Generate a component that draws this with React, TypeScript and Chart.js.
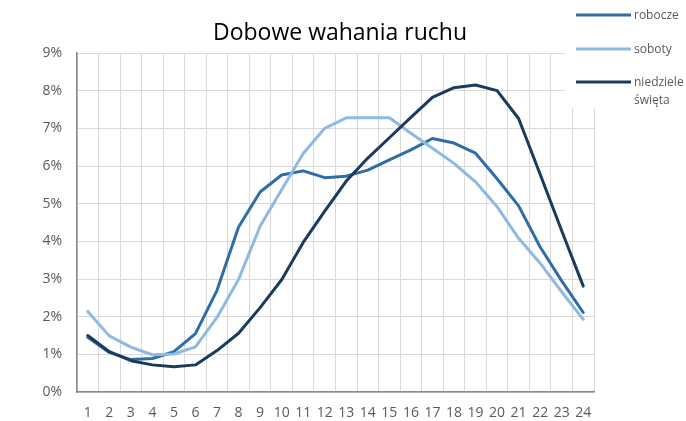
import { useEffect, useRef } from "react";
import { Chart, registerables } from "chart.js";

Chart.register(...registerables);

const hours = ["1","2","3","4","5","6","7","8","9","10","11","12","13","14","15","16","17","18","19","20","21","22","23","24"];
const robocze = [1.45, 1.05, 0.86, 0.89, 1.07, 1.55, 2.7, 4.38, 5.31, 5.76, 5.87, 5.69, 5.73, 5.89, 6.16, 6.43, 6.73, 6.61, 6.34, 5.66, 4.94, 3.85, 2.95, 2.11];
const soboty = [2.14, 1.49, 1.19, 0.99, 1.01, 1.2, 1.98, 2.99, 4.4, 5.37, 6.33, 7.0, 7.28, 7.28, 7.28, 6.87, 6.47, 6.07, 5.58, 4.92, 4.08, 3.42, 2.66, 1.93];
const niedziele = [1.5, 1.07, 0.83, 0.72, 0.67, 0.72, 1.1, 1.56, 2.24, 2.98, 3.97, 4.8, 5.6, 6.21, 6.75, 7.29, 7.82, 8.08, 8.15, 8.0, 7.26, 5.78, 4.28, 2.81];
const seriesNames = ["robocze", "soboty", ["niedziele", "święta"]];
const seriesColors = ["#2E6DA8", "#8DB9E2", "#1C3A5E"];
const yTicks = [0, 1, 2, 3, 4, 5, 6, 7, 8, 9];
const title = "Dobowe wahania ruchu";

const FONT = "'Open Sans', sans-serif";

const overlayPlugin = {
  id: "overlay",
  beforeDatasetsDraw(chart: any) {
    const ctx = chart.ctx;
    ctx.save();
    ctx.fillStyle = "#ffffff";
    ctx.fillRect(565, 0, 121, 108);
    ctx.restore();
  },
  afterDraw(chart: any) {
    const ctx = chart.ctx;
    ctx.save();
    // title
    ctx.fillStyle = "#000000";
    ctx.font = `23px ${FONT}`;
    ctx.textAlign = "center";
    ctx.textBaseline = "alphabetic";
    ctx.fillText(title, 340, 40);
    // legend
    const rows = [15, 49, 82];
    ctx.font = `12px ${FONT}`;
    ctx.textAlign = "left";
    ctx.textBaseline = "middle";
    seriesNames.forEach((name, i) => {
      const y = rows[i];
      ctx.strokeStyle = seriesColors[i];
      ctx.lineWidth = 3;
      ctx.lineCap = "butt";
      ctx.beginPath();
      ctx.moveTo(576, y);
      ctx.lineTo(631, y);
      ctx.stroke();
      ctx.fillStyle = "#595959";
      const lines = Array.isArray(name) ? name : [name];
      lines.forEach((t, j) => ctx.fillText(t, 634, y + 1 + j * 18));
    });
    ctx.restore();
  },
};

export default function App() {
  const ref = useRef<HTMLCanvasElement>(null);
  useEffect(() => {
    if (!ref.current) return;
    const chart = new Chart(ref.current, {
      type: "line",
      data: {
        labels: hours,
        datasets: [
          { label: "robocze", data: robocze },
          { label: "soboty", data: soboty },
          { label: "niedziele święta", data: niedziele },
        ].map((d, i) => ({
          ...d,
          borderColor: seriesColors[i],
          backgroundColor: seriesColors[i],
          borderWidth: 3,
          pointRadius: 0,
          tension: 0,
          borderJoinStyle: "round" as const,
          borderCapStyle: "round" as const,
          order: 3 - i,
        })),
      },
      options: {
        animation: false,
        responsive: false,
        devicePixelRatio: 1,
        layout: { padding: { top: 53, right: 92, left: 0, bottom: 0 } },
        plugins: { legend: { display: false }, title: { display: false }, tooltip: { enabled: false } },
        scales: {
          x: {
            type: "category",
            offset: true,
            grid: { color: "#d9d9d9", offset: true, drawTicks: false, lineWidth: 1 },
            border: { color: "#8a8a8a", width: 1.5 },
            ticks: { color: "#595959", font: { family: FONT, size: 14 }, padding: 13, maxRotation: 0, autoSkip: false },
            afterFit: (s: any) => { s.height = 29; },
          },
          y: {
            min: yTicks[0],
            max: yTicks[yTicks.length - 1],
            afterBuildTicks: (s: any) => { s.ticks = yTicks.map((v) => ({ value: v })); },
            grid: { color: "#d9d9d9", drawTicks: false, lineWidth: 1 },
            border: { color: "#8a8a8a", width: 1.5 },
            ticks: { color: "#595959", font: { family: FONT, size: 14 }, padding: 15, callback: (v: any) => v + "%" },
            afterFit: (s: any) => { s.width = 77; },
          },
        },
      },
      plugins: [overlayPlugin],
    });
    return () => chart.destroy();
  }, []);
  return (
    <div style={{ position: "fixed", left: 0, top: 0, width: 686, height: 421, background: "#fff" }}>
      <canvas ref={ref} width={686} height={421} />
    </div>
  );
}
